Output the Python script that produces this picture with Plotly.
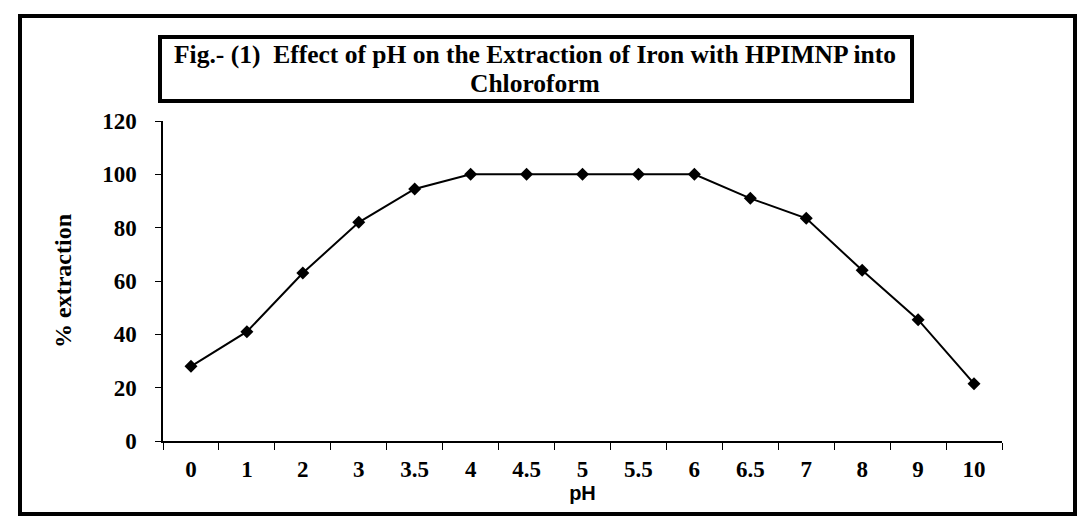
import plotly.graph_objects as go

ph_labels = ["0", "1", "2", "3", "3.5", "4", "4.5", "5", "5.5", "6", "6.5", "7", "8", "9", "10"]
extraction = [28, 41, 63, 82, 94.5, 100, 100, 100, 100, 100, 91, 83.5, 64, 45.5, 21.5]
y_ticks = [0, 20, 40, 60, 80, 100, 120]

OFF = 8  # page body margin in the browser
W, H = 1088 - OFF, 530 - OFF
L, R, T, B = 163 - OFF, 1002 - OFF, 121 - OFF, 441 - OFF  # plot area in px (figure coords)

def px(x):
    return (x - OFF - L) / (R - L)

def py(y):
    return (B - (y - OFF)) / (B - T)

serif = "Liberation Serif, Times New Roman, serif"
sans = "Liberation Sans, Arial, sans-serif"

fig = go.Figure()
fig.add_trace(go.Scatter(
    x=ph_labels, y=extraction, mode="lines+markers",
    line=dict(color="black", width=2),
    marker=dict(symbol="diamond", size=10, color="black"),
    showlegend=False,
))

fig.update_layout(
    width=W, height=H,
    margin=dict(l=L, r=W - R, t=T, b=H - B),
    paper_bgcolor="white", plot_bgcolor="white",
    xaxis=dict(
        type="category", range=[-0.5, len(ph_labels) - 0.5],
        showline=True, linecolor="black", linewidth=1.5,
        ticks="outside", tickson="boundaries", ticklen=7, tickcolor="black", tickwidth=1,
        showgrid=False, zeroline=False,
        tickfont=dict(family=serif, size=23, color="black", weight="bold"),
        ticklabelstandoff=7,
        title=dict(text="pH", font=dict(family=sans, size=20, color="black", weight="bold"), standoff=2),
    ),
    yaxis=dict(
        range=[0, 120], tickvals=y_ticks,
        showline=True, linecolor="black", linewidth=1.5,
        ticks="outside", ticklen=6, tickcolor="black", tickwidth=1,
        showgrid=False, zeroline=False,
        tickfont=dict(family=serif, size=23, color="black", weight="bold"),
        ticklabelstandoff=14,
        title=dict(text="% extraction", font=dict(family=serif, size=24, color="black", weight="bold"), standoff=24),
    ),
    shapes=[
        dict(type="rect", xref="paper", yref="paper",
             x0=px(20), x1=px(1075), y0=py(514), y1=py(16),
             line=dict(color="black", width=4), fillcolor="rgba(0,0,0,0)", layer="below"),
        dict(type="rect", xref="paper", yref="paper",
             x0=px(160), x1=px(912), y0=py(101), y1=py(37),
             line=dict(color="black", width=4), fillcolor="rgba(0,0,0,0)"),
    ],
    annotations=[
        dict(xref="paper", yref="paper", x=px(535), y=py(55), xanchor="center", yanchor="middle",
             text="Fig.- (1)  Effect of pH on the Extraction of Iron with HPIMNP into",
             showarrow=False, font=dict(family=serif, size=25.5, color="black", weight="bold")),
        dict(xref="paper", yref="paper", x=px(535), y=py(84), xanchor="center", yanchor="middle",
             text="Chloroform",
             showarrow=False, font=dict(family=serif, size=25.5, color="black", weight="bold")),
    ],
)

fig.write_html("out.html")
